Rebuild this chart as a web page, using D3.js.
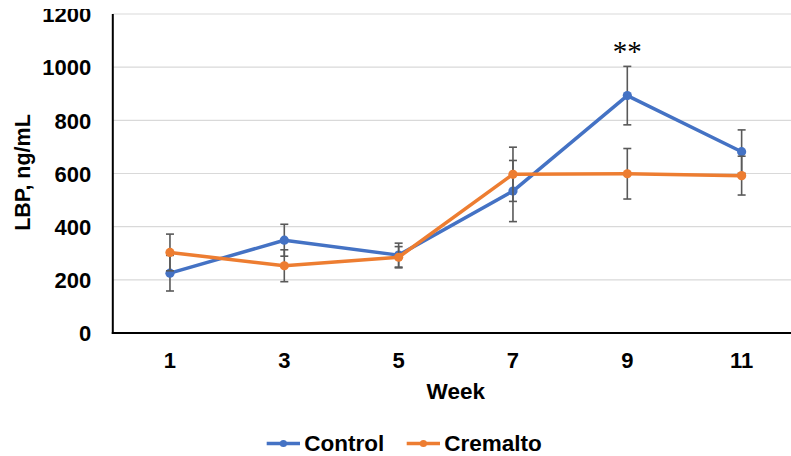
<!DOCTYPE html>
<html><head><meta charset="utf-8">
<script src="https://cdn.jsdelivr.net/npm/d3@7"></script>
<style>body{margin:0;background:#fff}svg{display:block}text{font-family:"Liberation Sans",Arial,sans-serif;font-weight:bold;fill:#000}</style>
</head><body><svg id="c" width="791" height="456"></svg>
<script>
const weeks = ["1","3","5","7","9","11"];
const controlMean = [225, 349, 293, 534, 893, 682];
const controlErr  = [67, 60, 45, 115, 110, 82];
const cremaltoMean = [303, 253, 285, 597, 599, 592];
const cremaltoErr  = [69, 60, 40, 102, 95, 73];
const yTicks = [0, 200, 400, 600, 800, 1000, 1200];
const seriesNames = ["Control", "Cremalto"];
const seriesColors = ["#4472C4", "#ED7D31"];
const annotation = {week: "9", text: "**"};

(function(){
const svg = d3.select("#c");
const pL = 112.8, pR = 798.8, pT = 14, pB = 333;
const x = d3.scaleBand().domain(weeks).range([pL, pR]);
const y = d3.scaleLinear().domain([0, 1200]).range([pB, pT]);
const cx = w => x(w) + x.bandwidth()/2;

// gridlines
svg.append("g").selectAll("line").data(yTicks.filter(t => t > 0)).join("line")
  .attr("x1", pL).attr("x2", pR).attr("y1", d => y(d)).attr("y2", d => y(d))
  .attr("stroke", "#d9d9d9").attr("stroke-width", 1.2);

// y tick labels (top clipped as in original)
svg.append("defs").append("clipPath").attr("id","clipTop").append("rect")
  .attr("x",-200).attr("y",9).attr("width",400).attr("height",450);
const yAxis = svg.append("g").attr("transform", `translate(${pL},0)`).attr("clip-path","url(#clipTop)")
  .call(d3.axisLeft(y).tickValues(yTicks).tickSize(0).tickPadding(21.5).tickFormat(d3.format("d")));
yAxis.select(".domain").remove();
yAxis.selectAll("text").attr("font-size", 22).attr("font-family", null).attr("dy", "0.35em");

// x tick labels
const xAxis = svg.append("g").attr("transform", `translate(0,${pB})`)
  .call(d3.axisBottom(x).tickSize(0).tickPadding(19.5));
xAxis.select(".domain").remove();
xAxis.selectAll("text").attr("font-size", 22).attr("font-family", null).attr("dy", "0.71em");

// axis lines
svg.append("line").attr("x1", pL).attr("x2", pL).attr("y1", pT).attr("y2", pB+1)
  .attr("stroke", "#000").attr("stroke-width", 2);
svg.append("line").attr("x1", pL-1).attr("x2", pR).attr("y1", pB).attr("y2", pB)
  .attr("stroke", "#000").attr("stroke-width", 2);

// axis titles
svg.append("text").attr("x", (pL+pR)/2).attr("y", 398.5).attr("text-anchor","middle")
  .attr("font-size", 22.5).text("Week");
svg.append("text").attr("transform", "translate(29.5,172.5) rotate(-90)").attr("text-anchor","middle")
  .attr("font-size", 21.5).text("LBP, ng/mL");

// series
const series = [
  {name: seriesNames[0], color: seriesColors[0], mean: controlMean, err: controlErr},
  {name: seriesNames[1], color: seriesColors[1], mean: cremaltoMean, err: cremaltoErr}
];
const line = d3.line().x((d,i) => cx(weeks[i])).y(d => y(d));
series.forEach(s => {
  const g = svg.append("g");
  const eb = g.append("g").attr("stroke", "#595959").attr("stroke-width", 1.6);
  s.mean.forEach((m, i) => {
    const xx = cx(weeks[i]), hi = y(m + s.err[i]), lo = y(m - s.err[i]);
    eb.append("line").attr("x1", xx).attr("x2", xx).attr("y1", hi).attr("y2", lo);
    eb.append("line").attr("x1", xx-4).attr("x2", xx+4).attr("y1", hi).attr("y2", hi);
    eb.append("line").attr("x1", xx-4).attr("x2", xx+4).attr("y1", lo).attr("y2", lo);
  });
  g.append("path").datum(s.mean).attr("d", line).attr("fill","none")
    .attr("stroke", s.color).attr("stroke-width", 3.5).attr("stroke-linejoin","round");
  g.selectAll("circle").data(s.mean).join("circle")
    .attr("cx", (d,i) => cx(weeks[i])).attr("cy", d => y(d)).attr("r", 4.6).attr("fill", s.color);
});

// annotation
svg.append("text").attr("x", cx(annotation.week)).attr("y", 61).attr("text-anchor","middle")
  .style("font-family", "'Liberation Serif','Times New Roman',serif").style("font-weight","normal")
  .attr("font-size", 29).text(annotation.text);

// legend
const leg = svg.append("g");
const legX = [266.7, 406.7];
series.forEach((s, i) => {
  const lg = leg.append("g").attr("transform", `translate(${legX[i]},443.5)`);
  lg.append("line").attr("x1", 0).attr("x2", 33.3).attr("stroke", s.color).attr("stroke-width", 3.5);
  lg.append("circle").attr("cx", 16.7).attr("r", 3.6).attr("fill", s.color);
  lg.append("text").attr("x", 37.5).attr("dy", "0.35em").attr("font-size", 22.5).text(s.name);
});
})();
</script></body></html>
